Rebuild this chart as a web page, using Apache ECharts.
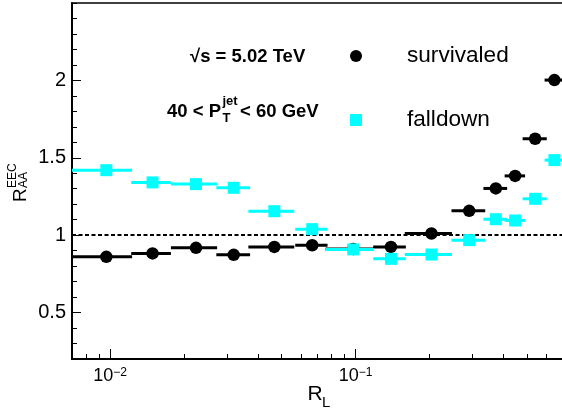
<!DOCTYPE html>
<html>
<head>
<meta charset="utf-8">
<script src="https://cdn.jsdelivr.net/npm/echarts@6/dist/echarts.min.js"></script>
<style>
html,body{margin:0;padding:0;background:#fff;}
#c{width:562px;height:415px;}
</style>
</head>
<body>
<div id="c"></div>
<script>
// ---- data ----
var binCenter = [0.00966, 0.0149, 0.0224, 0.0319, 0.0467, 0.0666, 0.0979, 0.1394, 0.2039, 0.2904, 0.3728, 0.4468, 0.5391, 0.6458];
var binLow    = [0.0070, 0.0122, 0.0177, 0.0271, 0.0366, 0.0568, 0.0755, 0.1180, 0.1587, 0.2460, 0.3318, 0.4050, 0.4793, 0.5890];
var binHigh   = [0.0123, 0.0177, 0.0273, 0.0372, 0.0563, 0.0769, 0.1189, 0.1603, 0.2470, 0.3375, 0.4145, 0.4905, 0.6012, 0.7100];
var survivaled = [0.860, 0.882, 0.918, 0.873, 0.924, 0.935, 0.910, 0.924, 1.011, 1.157, 1.302, 1.383, 1.623, 2.002];
var falldown   = [1.420, 1.341, 1.330, 1.306, 1.155, 1.039, 0.908, 0.847, 0.875, 0.968, 1.103, 1.095, 1.235, 1.485];
var xMajorTicks = [0.01, 0.1];
var xMinorTicks = [0.008, 0.009, 0.02, 0.03, 0.04, 0.05, 0.06, 0.07, 0.08, 0.09, 0.2, 0.3, 0.4, 0.5, 0.6];
var yMajorTicks = [0.5, 1, 1.5, 2];
var xLabelExp = {0.01: '−2', 0.1: '−1'};
var refLine = 1;

var FONT = '"Liberation Sans", Arial, Helvetica, sans-serif';
var CYAN = '#00ffff', BLACK = '#000000';

function pts(vals){ return binCenter.map(function(x,i){ return [x, vals[i]]; }); }
function bars(vals){ return binCenter.map(function(x,i){ return [binLow[i], binHigh[i], vals[i]]; }); }
function barRenderer(color){
  return function(params, api){
    var a = api.coord([api.value(0), api.value(2)]);
    var b = api.coord([api.value(1), api.value(2)]);
    return {type:'line', shape:{x1:a[0], y1:a[1], x2:b[0], y2:b[1]}, style:{stroke:color, lineWidth:3}};
  };
}
function txt(x, y, s, font){
  return {type:'text', x:x, y:y, style:{text:s, font:font, fill:'#000', align:'left', verticalAlign:'middle', textAlign:'left', textVerticalAlign:'middle'}};
}

var chart = echarts.init(document.getElementById('c'), null, {renderer:'canvas'});
var option = {
  animation:false,
  backgroundColor:'#fff',
  grid:{left:72, top:3, width:491, height:356, show:true, borderColor:'#000', borderWidth:1.5, backgroundColor:'transparent', containLabel:false, outerBoundsMode:'none'},
  legend:{
    orient:'vertical', left:345, top:39, itemWidth:12, itemHeight:12, itemGap:40,
    textStyle:{fontSize:22.6, fontFamily:FONT, color:'#000', lineHeight:24, padding:[0,0,0,40]},
    data:[{name:'survivaled', icon:'circle'},{name:'falldown', icon:'rect'}],
    selectedMode:false
  },
  xAxis:[
    {type:'log', logBase:10, min:0.007, max:0.7, gridIndex:0, position:'bottom',
     axisLine:{show:true, lineStyle:{color:'#000', width:2}},
     axisTick:{show:true, inside:true, length:5, customValues:xMinorTicks, lineStyle:{color:'#000', width:1}},
     axisLabel:{show:false}, splitLine:{show:false}, minorTick:{show:false}},
    {type:'log', logBase:10, min:0.007, max:0.7, gridIndex:0, position:'bottom', offset:0,
     axisLine:{show:false},
     axisTick:{show:true, inside:true, length:10, customValues:xMajorTicks, lineStyle:{color:'#000', width:1}},
     axisLabel:{show:true, margin:8, customValues:xMajorTicks,
       formatter:function(v){ var k = v < 0.05 ? 0.01 : 0.1; return '{a|10}{b|' + xLabelExp[k] + '}'; },
       rich:{a:{fontSize:18, fontFamily:FONT, color:'#000', lineHeight:18, verticalAlign:'bottom'},
             b:{fontSize:12, fontFamily:FONT, color:'#000', lineHeight:12, verticalAlign:'top', padding:[0,0,9,0]}}},
     splitLine:{show:false}}
  ],
  yAxis:[
    {type:'value', min:0.2, max:2.5, interval:0.1, gridIndex:0, position:'left',
     axisLine:{show:true, lineStyle:{color:'#000', width:2}},
     axisTick:{show:true, inside:true, length:5, lineStyle:{color:'#000', width:1}},
     axisLabel:{show:false}, splitLine:{show:false}},
    {type:'value', min:0.2, max:2.5, gridIndex:0, position:'left', offset:0,
     axisLine:{show:false},
     axisTick:{show:true, inside:true, length:9, customValues:yMajorTicks, lineStyle:{color:'#000', width:1}},
     axisLabel:{show:true, margin:6, customValues:yMajorTicks, fontSize:20, fontFamily:FONT, color:'#000',
       formatter:function(v){ return String(v); }},
     splitLine:{show:false}}
  ],
  graphic:[
    txt(190, 57, '√s = 5.02 TeV', 'bold 18.5px ' + FONT),
    txt(167, 111.7, '40 < P', 'bold 18.5px ' + FONT),
    txt(222.5, 118.5, 'T', 'bold 13px ' + FONT),
    txt(222.5, 101, 'jet', 'bold 13px ' + FONT),
    txt(240, 111.7, '< 60 GeV', 'bold 18.5px ' + FONT),
    txt(307.5, 394.2, 'R', '21px ' + FONT),
    txt(322, 402.5, 'L', '15px ' + FONT),
    {type:'group', x:20.8, y:202, rotation:Math.PI/2, children:[
      txt(0, 0, 'R', '19px ' + FONT),
      txt(14, 3, 'AA', '12px ' + FONT),
      txt(14, -8.3, 'EEC', '12px ' + FONT)
    ]}
  ],
  series:[
    {name:'survivaled-err', type:'custom', xAxisIndex:0, yAxisIndex:0, clip:true, z:3,
     renderItem:barRenderer(BLACK), encode:{x:[0,1], y:2}, data:bars(survivaled),
     markLine:{silent:true, symbol:'none', label:{show:false}, animation:false,
       lineStyle:{color:'#000', width:2, type:[4,2.5]}, data:[{yAxis:refLine}]}},
    {name:'survivaled', type:'scatter', xAxisIndex:0, yAxisIndex:0, z:4, symbol:'circle', symbolSize:12.5,
     itemStyle:{color:BLACK, opacity:1}, data:pts(survivaled)},
    {name:'falldown-err', type:'custom', xAxisIndex:0, yAxisIndex:0, clip:true, z:5,
     renderItem:barRenderer(CYAN), encode:{x:[0,1], y:2}, data:bars(falldown)},
    {name:'falldown', type:'scatter', xAxisIndex:0, yAxisIndex:0, z:6, symbol:'rect', symbolSize:12,
     itemStyle:{color:CYAN, opacity:1}, data:pts(falldown)}
  ]
};
chart.setOption(option);
</script>
</body>
</html>
